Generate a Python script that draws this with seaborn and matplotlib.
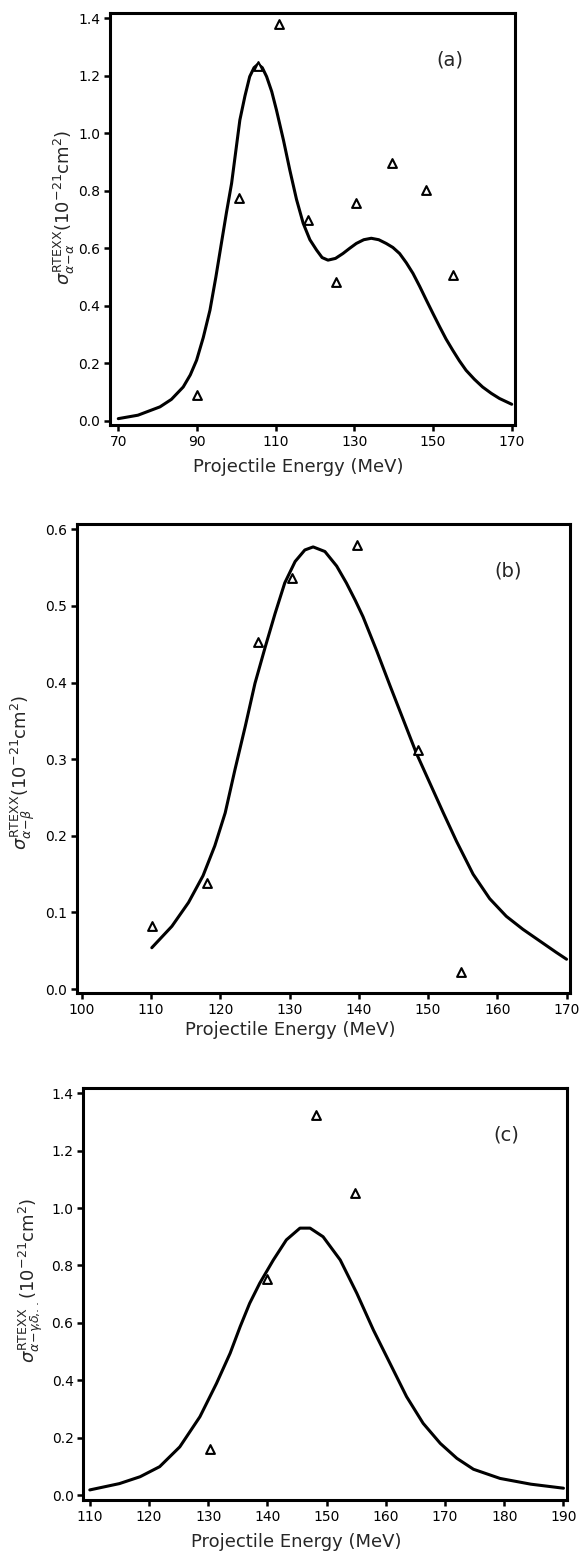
import matplotlib
matplotlib.use("Agg")
import matplotlib.pyplot as plt
import seaborn as sns
import pandas as pd

# panel (a): alpha -> alpha
curve_a_x = [70, 75, 80.6, 83.5, 86.5, 88.3, 89.9, 91.6, 93.3, 94.8, 96.2, 97.5, 98.8, 100.9,
             102.2, 103.4, 104.5, 105.5, 106.6, 107.7, 109.0, 110.2, 112.0, 113.6, 115.3,
             117.0, 118.7, 120.4, 121.8, 123.3, 125.2, 127.1, 128.8, 130.5, 132.4, 134.3,
             136.2, 138.1, 139.8, 141.5, 143.2, 144.9, 146.6, 148.3, 150.0, 151.7, 153.3,
             155.0, 156.7, 158.4, 160.5, 162.6, 164.8, 166.9, 170]
curve_a_y = [0.008, 0.02, 0.049, 0.075, 0.118, 0.16, 0.211, 0.29, 0.385, 0.50, 0.617, 0.725,
             0.826, 1.046, 1.13, 1.197, 1.228, 1.240, 1.228, 1.197, 1.145, 1.081, 0.975,
             0.872, 0.77, 0.687, 0.63, 0.594, 0.568, 0.559, 0.565, 0.582, 0.60, 0.617, 0.630,
             0.635, 0.630, 0.617, 0.603, 0.582, 0.55, 0.513, 0.468, 0.420, 0.373, 0.327,
             0.285, 0.246, 0.209, 0.176, 0.145, 0.118, 0.096, 0.078, 0.058]
pts_a_x = [89.9, 100.7, 105.5, 110.9, 118.3, 125.4, 130.3, 139.6, 148.3, 155.2]
pts_a_y = [0.09, 0.775, 1.235, 1.380, 0.70, 0.484, 0.759, 0.898, 0.803, 0.509]

# panel (b): alpha -> beta
curve_b_x = [110.1, 113.0, 115.4, 117.5, 119.2, 120.7, 122.1, 123.6, 125.0, 126.5, 127.9,
             129.3, 130.8, 132.2, 133.4, 135.1, 136.8, 138.2, 139.5, 140.6, 142.6, 144.5,
             146.4, 148.3, 150.3, 152.2, 154.1, 156.5, 158.9, 161.3, 163.7, 166.1, 168.5, 170]
curve_b_y = [0.054, 0.082, 0.113, 0.148, 0.187, 0.230, 0.286, 0.343, 0.399, 0.447, 0.490,
             0.530, 0.558, 0.573, 0.577, 0.571, 0.552, 0.530, 0.507, 0.486, 0.441, 0.396,
             0.352, 0.308, 0.268, 0.230, 0.193, 0.150, 0.118, 0.095, 0.078, 0.063, 0.048, 0.039]
pts_b_x = [110.1, 118.1, 125.4, 130.3, 139.8, 148.5, 154.8]
pts_b_y = [0.082, 0.139, 0.453, 0.537, 0.580, 0.312, 0.022]

# panel (c): alpha -> gamma, delta, ...
curve_c_x = [110, 115, 118.5, 121.8, 125.2, 128.6, 131.4, 133.7, 135.4, 137.0, 138.7, 141.0,
             143.2, 145.5, 147.2, 149.4, 152.3, 155.1, 157.9, 160.7, 163.5, 166.3, 169.2,
             172.0, 174.8, 179.3, 184.5, 190]
curve_c_y = [0.018, 0.04, 0.064, 0.099, 0.168, 0.273, 0.389, 0.494, 0.587, 0.668, 0.738, 0.819,
             0.889, 0.930, 0.930, 0.900, 0.819, 0.703, 0.575, 0.459, 0.343, 0.250, 0.180,
             0.128, 0.090, 0.058, 0.038, 0.024]
pts_c_x = [130.3, 139.9, 148.2, 154.8]
pts_c_y = [0.159, 0.752, 1.324, 1.052]

sns.set_style("ticks")
plt.rcParams['font.family'] = ['DejaVu Sans']
plt.rcParams['mathtext.fontset'] = 'dejavusans'

fig = plt.figure(figsize=(5.8, 15.51), dpi=100)

panels = [
    dict(rect=[0.1897, 0.726, 0.698, 0.2656], cx=curve_a_x, cy=curve_a_y, px=pts_a_x, py=pts_a_y,
         xlim=(67.9, 170.8), ylim=(-0.014, 1.418), xticks=range(70, 171, 20),
         yticks=[0.0, 0.2, 0.4, 0.6, 0.8, 1.0, 1.2, 1.4],
         ylabel=r'$\sigma^{\rm RTEXX}_{\alpha\!-\!\alpha}$(10$^{-21}$cm$^2$)',
         tag='(a)', tagpos=(0.84, 0.885), ylc=(-0.082, 0.527), xlc=(0.464, -0.08)),
    dict(rect=[0.1328, 0.3598, 0.85, 0.3024], cx=curve_b_x, cy=curve_b_y, px=pts_b_x, py=pts_b_y,
         xlim=(99.3, 170.5), ylim=(-0.005, 0.607), xticks=range(100, 171, 10),
         yticks=[0.0, 0.1, 0.2, 0.3, 0.4, 0.5, 0.6],
         ylabel=r'$\sigma^{\rm RTEXX}_{\alpha\!-\!\beta}$(10$^{-21}$cm$^2$)',
         tag='(b)', tagpos=(0.875, 0.9), ylc=(-0.081, 0.471), xlc=(0.432, -0.06)),
    dict(rect=[0.1436, 0.0329, 0.834, 0.2656], cx=curve_c_x, cy=curve_c_y, px=pts_c_x, py=pts_c_y,
         xlim=(108.9, 190.6), ylim=(-0.017, 1.418), xticks=range(110, 191, 10),
         yticks=[0.0, 0.2, 0.4, 0.6, 0.8, 1.0, 1.2, 1.4],
         ylabel=r'$\sigma^{\rm RTEXX}_{\alpha\!-\!\gamma\!,\!\delta\!,\!..}$(10$^{-21}$cm$^2$)',
         tag='(c)', tagpos=(0.875, 0.885), ylc=(-0.079, 0.534), xlc=(0.44, -0.08)),
]

for p in panels:
    ax = fig.add_axes(p['rect'])
    curve = pd.DataFrame({'E': p['cx'], 'sigma': p['cy']})
    pts = pd.DataFrame({'E': p['px'], 'sigma': p['py']})
    sns.lineplot(data=curve, x='E', y='sigma', ax=ax, color='black', linewidth=2.2,
                 sort=False, estimator=None)
    sns.scatterplot(data=pts, x='E', y='sigma', ax=ax, marker='^', s=40,
                    facecolor='white', edgecolor='black', linewidth=1.5, zorder=5)
    ax.set_xlim(*p['xlim'])
    ax.set_ylim(*p['ylim'])
    ax.set_xticks(list(p['xticks']))
    ax.set_yticks(p['yticks'])
    ax.set_yticklabels([f'{v:.1f}' for v in p['yticks']])
    for s in ax.spines.values():
        s.set_visible(True)
        s.set_linewidth(2.2)
        s.set_color('black')
    ax.tick_params(direction='out', length=4, width=1.8, labelsize=10, pad=3,
                   colors='black')
    ax.set_xlabel('Projectile Energy (MeV)', fontsize=13)
    ax.set_ylabel(p['ylabel'], fontsize=13)
    ax.xaxis.set_label_coords(*p['xlc'])
    ax.yaxis.set_label_coords(*p['ylc'])
    ax.text(p['tagpos'][0], p['tagpos'][1], p['tag'], transform=ax.transAxes,
            fontsize=14, ha='center', va='center')

fig.savefig('out.png', dpi=100)
